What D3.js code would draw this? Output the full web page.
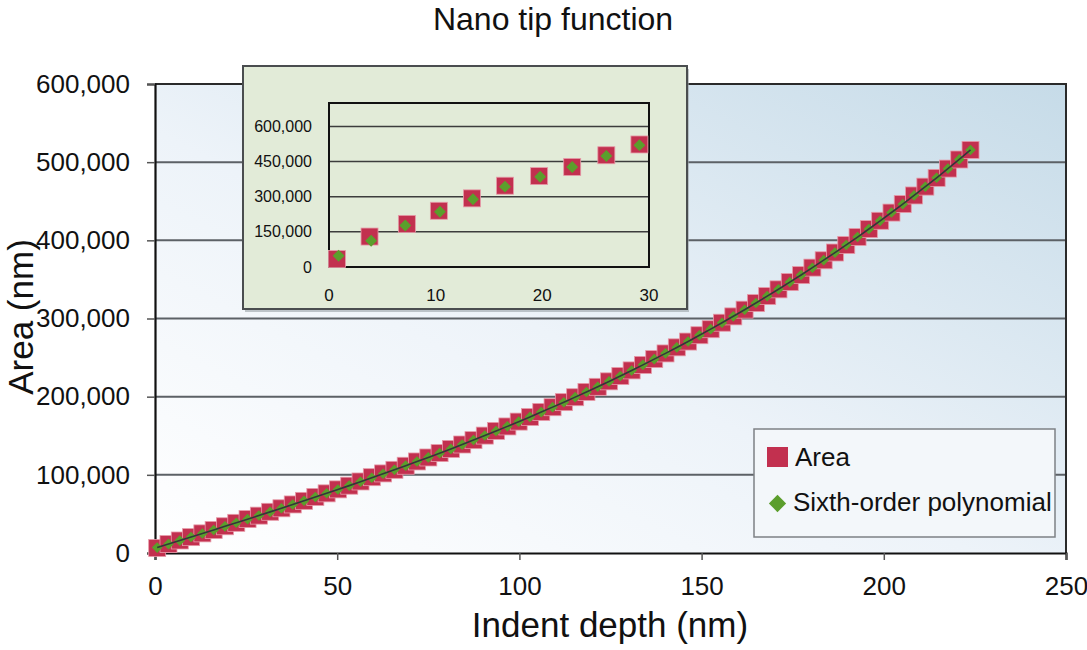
<!DOCTYPE html>
<html>
<head>
<meta charset="utf-8">
<script src="https://cdn.jsdelivr.net/npm/d3@7"></script>
<style>
  body { margin: 0; background: #fff; }
  svg { display: block; font-family: "Liberation Sans", Arial, sans-serif; }
</style>
</head>
<body>
<div id="chart"></div>
<script>
// indent depth (nm) of each measurement
const depth = [0.6, 3.7, 6.8, 9.9, 13.0, 16.1, 19.2, 22.3, 25.4, 28.5,
  31.6, 34.7, 37.8, 40.9, 44.0, 47.1, 50.2, 53.3, 56.4, 59.5,
  62.6, 65.7, 68.8, 71.9, 75.0, 78.1, 81.2, 84.3, 87.4, 90.5,
  93.6, 96.7, 99.8, 102.9, 106.0, 109.1, 112.2, 115.3, 118.4, 121.5,
  124.6, 127.7, 130.8, 133.9, 137.0, 140.1, 143.2, 146.3, 149.4, 152.5,
  155.6, 158.7, 161.8, 164.9, 168.0, 171.1, 174.2, 177.3, 180.4, 183.5,
  186.6, 189.7, 192.8, 195.9, 199.0, 202.1, 205.2, 208.3, 211.4, 214.5,
  217.6, 220.7, 223.8];

// measured area
const area = [6400, 11400, 16000, 20300, 25100, 29400, 34200, 38600, 43400, 47800,
  52700, 57200, 62100, 66700, 71700, 76300, 81400, 86100, 91500, 97000,
  101800, 106400, 111600, 117100, 122200, 127800, 133100, 138800, 144400, 150200,
  156200, 161900, 168100, 174000, 180400, 186500, 193000, 199300, 206100, 212600,
  219600, 226400, 233600, 240600, 248100, 255300, 263100, 270500, 278600, 286300,
  294600, 302700, 311300, 319700, 328700, 337300, 346600, 355500, 365100, 374500,
  384400, 394000, 404300, 414400, 425000, 435500, 446400, 457400, 468700, 479900,
  491800, 503400, 515700];

// sixth-order polynomial fit
const poly = [6900, 11400, 15900, 20400, 25000, 29500, 34100, 38700, 43300, 47900,
  52600, 57300, 62000, 66800, 71600, 76400, 81300, 86200, 91200, 96300,
  101400, 106500, 111700, 117000, 122300, 127700, 133200, 138700, 144500, 150300,
  156100, 162000, 168000, 174100, 180300, 186600, 192900, 199400, 206000, 212700,
  219500, 226500, 233500, 240700, 248000, 255400, 263000, 270600, 278500, 286400,
  294500, 302800, 311200, 319800, 328600, 337400, 346500, 355600, 365000, 374600,
  384300, 394100, 404200, 414500, 424900, 435600, 446300, 457500, 468600, 480000,
  491700, 503500, 515600];

// inset (first points)
const insetDepth = [0.75, 3.8, 7.3, 10.3, 13.4, 16.5, 19.7, 22.8, 26.0, 29.1];
const insetArea = [34000, 130000, 184000, 240000, 293000, 347000, 388000, 427000, 477000, 523000];
const insetFitDepth = [0.9, 3.95, 7.15, 10.4, 13.5, 16.5, 19.8, 22.8, 26.0, 29.1];
const insetFit = [48000, 112000, 177000, 236000, 289000, 343000, 385000, 427000, 474000, 520000];

const xTicks = [0, 50, 100, 150, 200, 250];
const yTicks = [0, 100000, 200000, 300000, 400000, 500000, 600000];
const insetXTicks = [0, 10, 20, 30];
const insetYTicks = [0, 150000, 300000, 450000, 600000];

const W = 1087, H = 650;
const plot = { left: 155, right: 1066, top: 84, bottom: 553 };
const fmt = d3.format(",");
const red = "#c2304f", green = "#5b9e2c";

const svg = d3.select("#chart").append("svg")
  .attr("width", W).attr("height", H);

const defs = svg.append("defs");
const bg = defs.append("linearGradient").attr("id", "bg")
  .attr("x1", "0%").attr("y1", "100%").attr("x2", "100%").attr("y2", "0%");
bg.append("stop").attr("offset", "0%").attr("stop-color", "#ffffff");
bg.append("stop").attr("offset", "45%").attr("stop-color", "#edf3f9");
bg.append("stop").attr("offset", "100%").attr("stop-color", "#c6dbe8");

const x = d3.scaleLinear().domain([0, 250]).range([plot.left, plot.right]);
const y = d3.scaleLinear().domain([0, 600000]).range([plot.bottom, plot.top]);

// plot background
svg.append("rect")
  .attr("x", plot.left).attr("y", plot.top)
  .attr("width", plot.right - plot.left).attr("height", plot.bottom - plot.top)
  .attr("fill", "url(#bg)");

// gridlines
svg.append("g").selectAll("line")
  .data(yTicks.filter(d => d > 0 && d < 600000))
  .join("line")
  .attr("x1", plot.left).attr("x2", plot.right)
  .attr("y1", d => y(d)).attr("y2", d => y(d))
  .attr("stroke", "#5c6166").attr("stroke-width", 2);

// frame top + right
svg.append("path")
  .attr("d", `M${plot.left},${plot.top}H${plot.right}V${plot.bottom}`)
  .attr("fill", "none").attr("stroke", "#2a2a2a").attr("stroke-width", 2);

// axes
const yAxis = svg.append("g")
  .attr("transform", `translate(${plot.left},0)`)
  .call(d3.axisLeft(y).tickValues(yTicks).tickFormat(fmt).tickSize(8).tickPadding(17));
const xAxis = svg.append("g")
  .attr("transform", `translate(0,${plot.bottom})`)
  .call(d3.axisBottom(x).tickValues(xTicks).tickSize(7).tickPadding(17));
[xAxis, yAxis].forEach(a => {
  a.select(".domain").attr("stroke", "#111").attr("stroke-width", 2.2);
  a.selectAll(".tick line").attr("stroke", "#555").attr("stroke-width", 1.5);
  a.selectAll(".tick text").attr("font-size", 26).attr("fill", "#111")
    .attr("font-family", "Liberation Sans, Arial, sans-serif");
});

// marks
const sq = 17;
svg.append("g").selectAll("rect")
  .data(depth)
  .join("rect")
  .attr("x", (d, i) => x(d) - sq / 2)
  .attr("y", (d, i) => y(area[i]) - sq / 2)
  .attr("width", sq).attr("height", sq)
  .attr("fill", red).attr("stroke", "#e69aa8").attr("stroke-width", 0.8);

const diamond = d3.symbol().type(d3.symbolDiamond2).size(72);
svg.append("g").selectAll("path")
  .data(depth)
  .join("path")
  .attr("transform", (d, i) => `translate(${x(d)},${y(poly[i])})`)
  .attr("d", diamond)
  .attr("fill", green);

svg.append("path")
  .datum(depth)
  .attr("d", d3.line().x(d => x(d)).y((d, i) => y(poly[i])))
  .attr("fill", "none").attr("stroke", "#33363a").attr("stroke-width", 1.6);

// inset
const inset = { left: 243, top: 66, right: 687, bottom: 309 };
const ip = { left: 329, right: 649, top: 103, bottom: 267 };
svg.append("rect")
  .attr("x", inset.left + 2).attr("y", inset.top + 3)
  .attr("width", inset.right - inset.left).attr("height", inset.bottom - inset.top)
  .attr("fill", "#9aa2a6").attr("opacity", 0.6);
svg.append("rect")
  .attr("x", inset.left).attr("y", inset.top)
  .attr("width", inset.right - inset.left).attr("height", inset.bottom - inset.top)
  .attr("fill", "#e2ebd8").attr("stroke", "#4a4d4f").attr("stroke-width", 2);

const ix = d3.scaleLinear().domain([0, 30]).range([ip.left, ip.right]);
const iy = d3.scaleLinear().domain([0, 700000]).range([ip.bottom, ip.top]);

svg.append("g").selectAll("line")
  .data(insetYTicks.filter(d => d > 0))
  .join("line")
  .attr("x1", ip.left).attr("x2", ip.right)
  .attr("y1", d => iy(d)).attr("y2", d => iy(d))
  .attr("stroke", "#3c3c3c").attr("stroke-width", 1.5);

svg.append("rect")
  .attr("x", ip.left).attr("y", ip.top)
  .attr("width", ip.right - ip.left).attr("height", ip.bottom - ip.top)
  .attr("fill", "none").attr("stroke", "#111").attr("stroke-width", 2);

svg.append("g").selectAll("text")
  .data(insetYTicks)
  .join("text")
  .attr("x", ip.left - 17).attr("y", d => iy(d))
  .attr("dy", "0.35em").attr("text-anchor", "end")
  .attr("font-size", 16).attr("fill", "#111")
  .text(fmt);
svg.append("g").selectAll("text")
  .data(insetXTicks)
  .join("text")
  .attr("x", d => ix(d)).attr("y", 301)
  .attr("text-anchor", "middle")
  .attr("font-size", 17).attr("fill", "#111")
  .text(d => d);

const isq = 17;
svg.append("g").selectAll("rect")
  .data(insetDepth)
  .join("rect")
  .attr("x", d => ix(d) - isq / 2)
  .attr("y", (d, i) => iy(insetArea[i]) - isq / 2)
  .attr("width", isq).attr("height", isq)
  .attr("fill", red).attr("stroke", "#e69aa8").attr("stroke-width", 0.8);
svg.append("g").selectAll("path")
  .data(insetFitDepth)
  .join("path")
  .attr("transform", (d, i) => `translate(${ix(d)},${iy(insetFit[i])})`)
  .attr("d", d3.symbol().type(d3.symbolDiamond2).size(90))
  .attr("fill", green);

// legend
const lg = svg.append("g");
lg.append("rect")
  .attr("x", 754).attr("y", 429).attr("width", 301).attr("height", 108)
  .attr("fill", "#f3f7fa").attr("stroke", "#7d8185").attr("stroke-width", 1.5);
lg.append("rect")
  .attr("x", 767).attr("y", 447).attr("width", 21).attr("height", 20)
  .attr("fill", red);
lg.append("text").attr("x", 795).attr("y", 466)
  .attr("font-size", 26).attr("fill", "#111").text("Area");
lg.append("path")
  .attr("transform", "translate(777.5,503.5)")
  .attr("d", d3.symbol().type(d3.symbolDiamond2).size(190))
  .attr("fill", green);
lg.append("text").attr("x", 793).attr("y", 511)
  .attr("font-size", 26).attr("fill", "#111").text("Sixth-order polynomial");

// titles
svg.append("text").attr("x", 553).attr("y", 30)
  .attr("text-anchor", "middle").attr("font-size", 32).attr("fill", "#111")
  .text("Nano tip function");
svg.append("text").attr("x", 610).attr("y", 637)
  .attr("text-anchor", "middle").attr("font-size", 35).attr("fill", "#111")
  .text("Indent depth (nm)");
svg.append("text")
  .attr("transform", "translate(33,317) rotate(-90)")
  .attr("text-anchor", "middle").attr("font-size", 35).attr("fill", "#111")
  .text("Area (nm)");
</script>
</body>
</html>
